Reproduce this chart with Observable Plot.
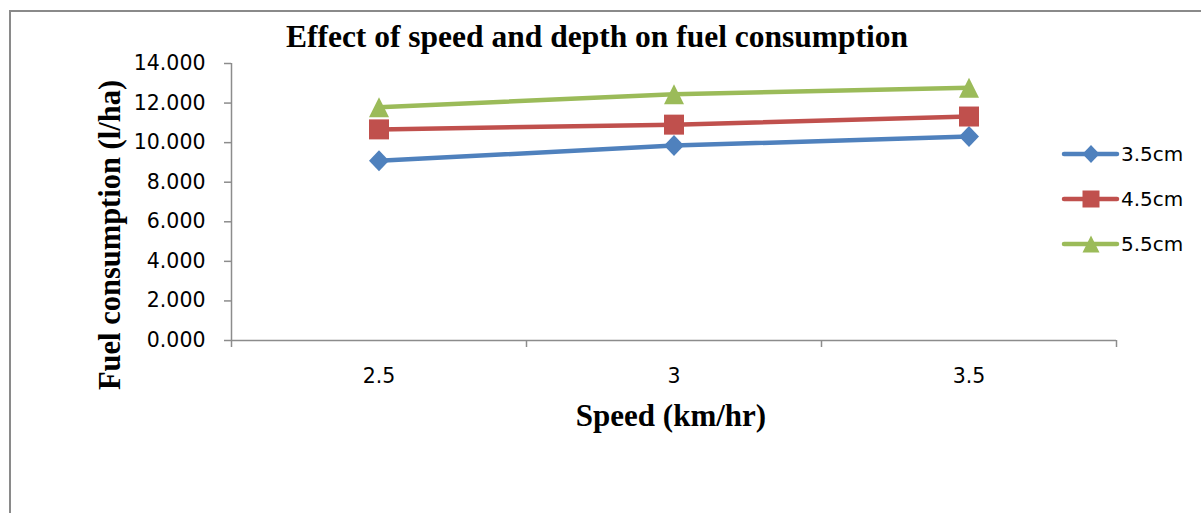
<!DOCTYPE html>
<html><head><meta charset="utf-8">
<script src="https://cdn.jsdelivr.net/npm/d3@7"></script>
<script src="https://cdn.jsdelivr.net/npm/@observablehq/plot@0.6"></script>
<style>
html,body{margin:0;padding:0;background:#fff;}
body{width:1201px;height:513px;position:relative;overflow:hidden;}
#chart{position:absolute;left:0;top:0;}
#border{position:absolute;left:9px;top:10px;width:1400px;height:800px;border-left:2px solid #8a8a8a;border-top:2px solid #8a8a8a;pointer-events:none;}
#legend{position:absolute;left:1061px;top:131px;font-family:"DejaVu Sans",sans-serif;font-size:20px;color:#000;}
#legend .row{display:flex;align-items:center;height:45px;}
#legend svg{display:block;}
</style></head><body>
<div id="chart"></div>
<div id="legend"></div>
<div id="border"></div>
<script>
// ---- data ----
const speeds = [2.5, 3, 3.5];
const speedLabels = ["2.5", "3", "3.5"];
const depths = ["3.5cm", "4.5cm", "5.5cm"];
const fuel35 = [9.08, 9.85, 10.31];
const fuel45 = [10.67, 10.91, 11.32];
const fuel55 = [11.79, 12.45, 12.78];
const yTicks = [0, 2, 4, 6, 8, 10, 12, 14];
const xBounds = [2.25, 2.75, 3.25, 3.75];
const colors = ["#4F81BD", "#C0504D", "#9BBB59"];
const titleText = "Effect of speed and depth on fuel consumption";
const xTitle = "Speed (km/hr)";
const yTitle = "Fuel consumption (l/ha)";

const series = [fuel35, fuel45, fuel55];
const data = [];
depths.forEach((d, i) => speeds.forEach((s, j) => data.push({depth: d, speed: s, fuel: series[i][j]})));

// custom Excel-like symbols (half width = r)
const diamondSym = {draw(ctx, size) { const h = Math.sqrt(size / Math.PI); ctx.moveTo(0, -h * 1.05); ctx.lineTo(h, 0); ctx.lineTo(0, h * 1.05); ctx.lineTo(-h, 0); ctx.closePath(); }};
const squareSym = {draw(ctx, size) { const h = Math.sqrt(size / Math.PI); ctx.rect(-h, -h, 2 * h, 2 * h); }};
const triangleSym = {draw(ctx, size) { const h = Math.sqrt(size / Math.PI); ctx.moveTo(0, -h); ctx.lineTo(h, h); ctx.lineTo(-h, h); ctx.closePath(); }};
const symbols = [diamondSym, squareSym, triangleSym];

const gray = "#8c8c8c";
const chart = Plot.plot({
  width: 1201, height: 513,
  marginLeft: 231, marginRight: 85, marginTop: 63, marginBottom: 173,
  style: {fontFamily: "DejaVu Sans, sans-serif", fontSize: "20px", color: "#000", background: "transparent", overflow: "visible"},
  x: {type: "linear", domain: [xBounds[0], xBounds[xBounds.length - 1]], label: null},
  y: {domain: [yTicks[0], yTicks[yTicks.length - 1]], label: null},
  color: {domain: depths, range: colors},
  symbol: {domain: depths, range: symbols},
  marks: [
    Plot.ruleY([0], {stroke: gray, strokeWidth: 1.5}),
    Plot.ruleX([xBounds[0]], {stroke: gray, strokeWidth: 1.5}),
    Plot.axisY({ticks: yTicks, tickSize: 7, tickPadding: 19, tickFormat: d3.format(".3f"), stroke: gray, strokeWidth: 1.5, fontSize: 20.5, label: null}),
    Plot.axisX({ticks: xBounds, tickSize: 7, tickFormat: () => "", stroke: gray, strokeWidth: 1.5, label: null}),
    Plot.axisX({ticks: speeds, tickSize: 0, tickPadding: 28, tickFormat: d => speedLabels[speeds.indexOf(d)], fontSize: 20.5, label: null}),
    Plot.line(data, {x: "speed", y: "fuel", z: "depth", stroke: "depth", strokeWidth: 4.5}),
    Plot.dot(data, {x: "speed", y: "fuel", symbol: "depth", fill: "depth", r: 10}),
    Plot.text([titleText], {text: d => d, frameAnchor: "top", textAnchor: "middle", lineAnchor: "middle", dx: -77, dy: -27, fontFamily: "Liberation Serif, serif", fontWeight: "bold", fontSize: 31.5}),
    Plot.text([xTitle], {text: d => d, frameAnchor: "bottom", textAnchor: "middle", lineAnchor: "middle", dx: -3, dy: 76, fontFamily: "Liberation Serif, serif", fontWeight: "bold", fontSize: 31}),
    Plot.text([yTitle], {text: d => d, frameAnchor: "left", textAnchor: "middle", lineAnchor: "middle", rotate: -90, dx: -121, dy: 33, fontFamily: "Liberation Serif, serif", fontWeight: "bold", fontSize: 30.5})
  ]
});
document.getElementById("chart").append(chart);

// legend
const legend = d3.select("#legend");
depths.forEach((d, i) => {
  const row = legend.append("div").attr("class", "row");
  const svg = row.append("svg").attr("width", 60).attr("height", 30);
  svg.append("line").attr("x1", 3).attr("x2", 56).attr("y1", 15).attr("y2", 15)
    .attr("stroke", colors[i]).attr("stroke-width", 4.5).attr("stroke-linecap", "round");
  const p = d3.path();
  symbols[i].draw(p, Math.PI * 8.5 * 8.5);
  svg.append("path").attr("d", p.toString()).attr("transform", "translate(30,15)").attr("fill", colors[i]);
  row.append("span").text(d);
});
</script>
</body></html>
